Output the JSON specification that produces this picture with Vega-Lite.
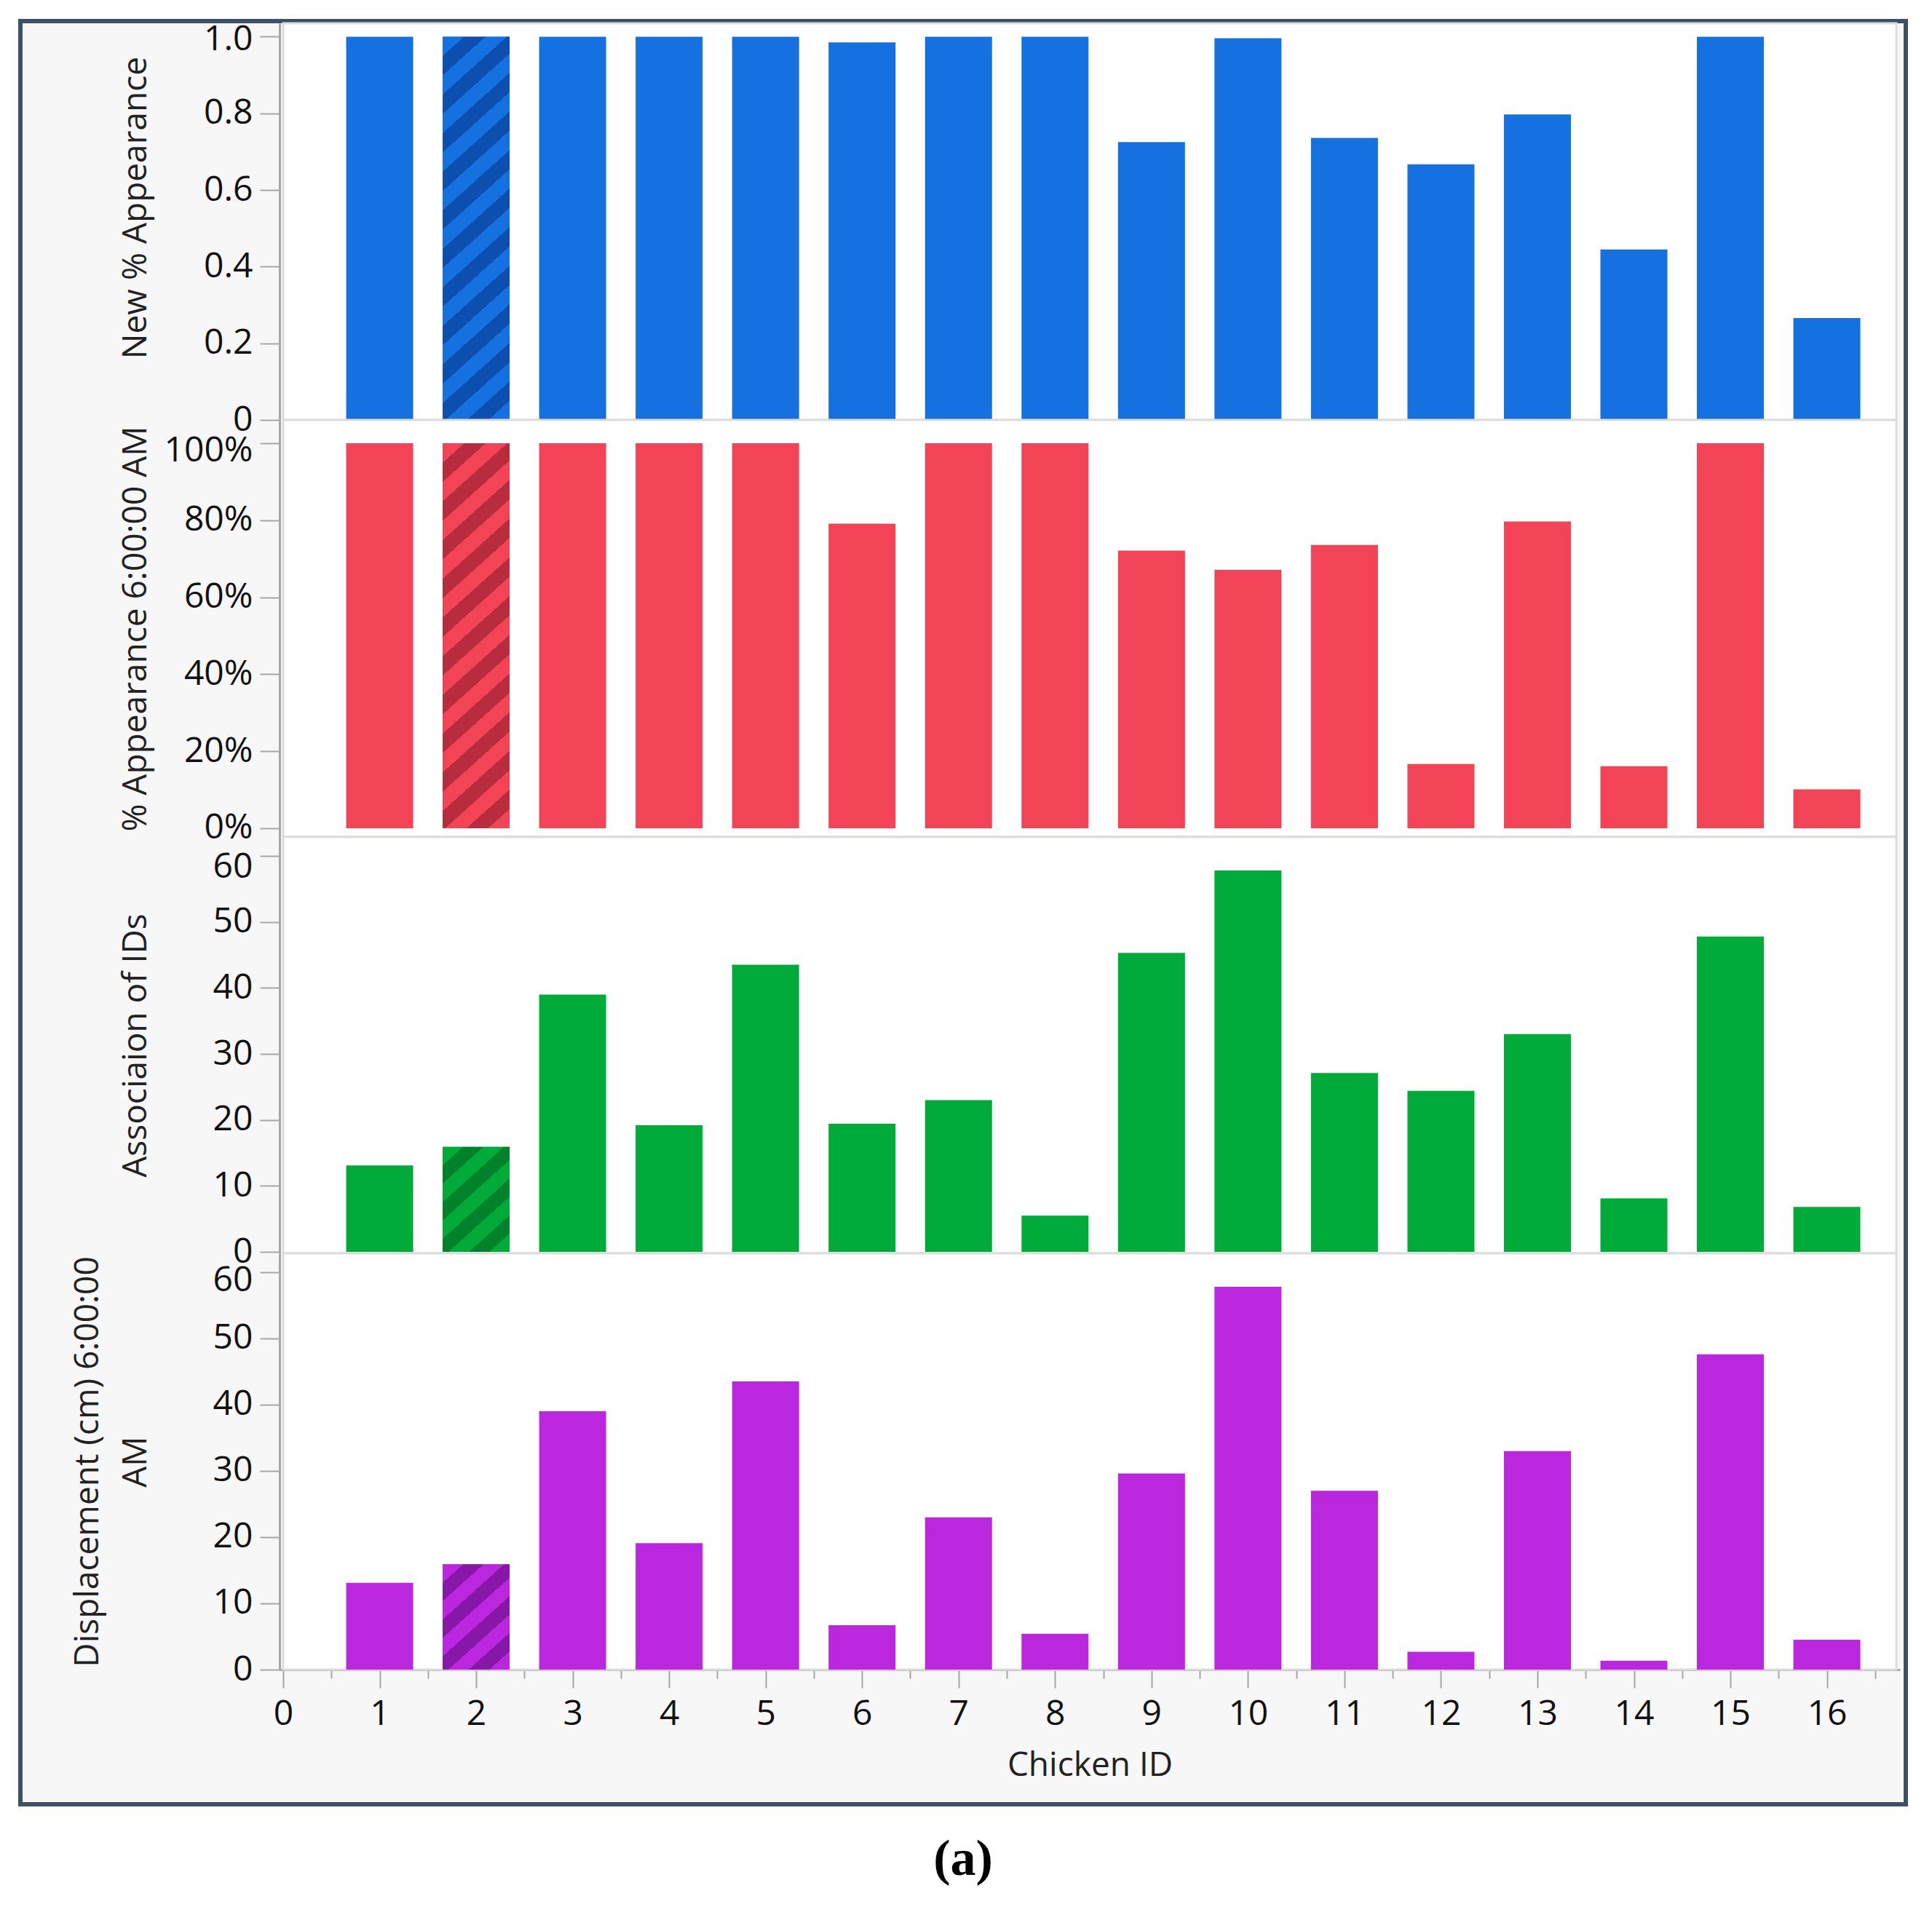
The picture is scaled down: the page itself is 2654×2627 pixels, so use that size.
{
  "$schema": "https://vega.github.io/schema/vega-lite/v6.json",
  "width": 2590,
  "height": 2450,
  "autosize": {"type": "none"},
  "padding": {"left": 28, "top": 29, "right": 36, "bottom": 148},
  "background": "white",
  "title": {"text": "(a)", "orient": "bottom", "anchor": "middle", "font": "Liberation Serif", "fontSize": 70, "fontWeight": "bold", "color": "#000000", "offset": 42},
  "data": {
    "values": [
      {"id": 1, "new_app": 1.0, "app6": 1.0, "assoc": 13.1, "disp": 13.1},
      {"id": 2, "new_app": 1.0, "app6": 1.0, "assoc": 15.9, "disp": 15.9},
      {"id": 3, "new_app": 1.0, "app6": 1.0, "assoc": 39.0, "disp": 39.0},
      {"id": 4, "new_app": 1.0, "app6": 1.0, "assoc": 19.2, "disp": 19.1},
      {"id": 5, "new_app": 1.0, "app6": 1.0, "assoc": 43.5, "disp": 43.5},
      {"id": 6, "new_app": 0.985, "app6": 0.791, "assoc": 19.4, "disp": 6.7},
      {"id": 7, "new_app": 1.0, "app6": 1.0, "assoc": 23.0, "disp": 23.0},
      {"id": 8, "new_app": 1.0, "app6": 1.0, "assoc": 5.5, "disp": 5.4},
      {"id": 9, "new_app": 0.725, "app6": 0.721, "assoc": 45.3, "disp": 29.6},
      {"id": 10, "new_app": 0.996, "app6": 0.671, "assoc": 57.8, "disp": 57.8},
      {"id": 11, "new_app": 0.736, "app6": 0.736, "assoc": 27.1, "disp": 27.0},
      {"id": 12, "new_app": 0.667, "app6": 0.167, "assoc": 24.4, "disp": 2.7},
      {"id": 13, "new_app": 0.797, "app6": 0.797, "assoc": 33.0, "disp": 33.0},
      {"id": 14, "new_app": 0.445, "app6": 0.161, "assoc": 8.1, "disp": 1.35},
      {"id": 15, "new_app": 1.0, "app6": 1.0, "assoc": 47.8, "disp": 47.6},
      {"id": 16, "new_app": 0.266, "app6": 0.101, "assoc": 6.8, "disp": 4.5}
    ]
  },
  "layer": [
    {
      "layer": [
        {
          "data": {"values": [{}]},
          "mark": {"type": "rect", "fill": "white", "stroke": "#dcdcdc", "strokeWidth": 3},
          "encoding": {
            "x": {"datum": 0, "type": "quantitative", "title": "Chicken ID", "scale": {"domain": [0, 16.72], "range": [356, 2582], "nice": false, "zero": false}},
            "x2": {"datum": 16.72},
            "y": {"datum": 0, "type": "quantitative", "title": "New % Appearance", "scale": {"domain": [0, 1.035], "range": [548, 3], "nice": false, "zero": false}},
            "y2": {"datum": 1.035}
          }
        },
        {
          "mark": {"type": "bar", "orient": "vertical", "size": 92, "fill": "#1570e0"},
          "encoding": {
            "x": {
              "field": "id", "type": "quantitative", "title": "Chicken ID",
              "scale": {"domain": [0, 16.72], "range": [356, 2582], "nice": false, "zero": false},
              "axis": {
                "orient": "bottom", "offset": -185,
                "values": [0, 0.5, 1, 1.5, 2, 2.5, 3, 3.5, 4, 4.5, 5, 5.5, 6, 6.5, 7, 7.5, 8, 8.5, 9, 9.5, 10, 10.5, 11, 11.5, 12, 12.5, 13, 13.5, 14, 14.5, 15, 15.5, 16, 16.5],
                "labelExpr": "datum.value % 1 == 0 ? format(datum.value, 'd') : ''",
                "tickSize": {"condition": {"test": "datum.value % 1 == 0", "value": 25}, "value": 12},
                "labelFlush": false, "labelOverlap": false, "labelPadding": 12, "titlePadding": 24
              }
            },
            "y": {
              "field": "new_app", "type": "quantitative", "title": "New % Appearance",
              "scale": {"domain": [0, 1.035], "range": [548, 3], "nice": false, "zero": false},
              "axis": {
                "orient": "left", "offset": -356,
                "values": [0, 0.2, 0.4, 0.6, 0.8, 1],
                "labelExpr": "datum.value == 0 ? '0' : format(datum.value, '.1f')",
                "labelOffset": {"condition": {"test": "datum.value == 1", "value": 4}, "value": 0},
                "minExtent": 160, "maxExtent": 160, "titlePadding": 14, "titleY": 256
              }
            }
          }
        },
        {
          "transform": [{"filter": "datum.id == 2"}],
          "mark": {
            "type": "bar", "orient": "vertical", "size": 92,
            "fill": {
              "gradient": "linear", "x1": 0, "y1": 0, "x2": 0.1778, "y2": 1.1294,
              "stops": [
                {"offset": 0, "color": "#1570e0"}, {"offset": 0.0435, "color": "#1570e0"},
                {"offset": 0.0435, "color": "#0c4fae"}, {"offset": 0.087, "color": "#0c4fae"},
                {"offset": 0.087, "color": "#1570e0"}, {"offset": 0.1304, "color": "#1570e0"},
                {"offset": 0.1304, "color": "#0c4fae"}, {"offset": 0.1739, "color": "#0c4fae"},
                {"offset": 0.1739, "color": "#1570e0"}, {"offset": 0.2174, "color": "#1570e0"},
                {"offset": 0.2174, "color": "#0c4fae"}, {"offset": 0.2609, "color": "#0c4fae"},
                {"offset": 0.2609, "color": "#1570e0"}, {"offset": 0.3043, "color": "#1570e0"},
                {"offset": 0.3043, "color": "#0c4fae"}, {"offset": 0.3478, "color": "#0c4fae"},
                {"offset": 0.3478, "color": "#1570e0"}, {"offset": 0.3913, "color": "#1570e0"},
                {"offset": 0.3913, "color": "#0c4fae"}, {"offset": 0.4348, "color": "#0c4fae"},
                {"offset": 0.4348, "color": "#1570e0"}, {"offset": 0.4783, "color": "#1570e0"},
                {"offset": 0.4783, "color": "#0c4fae"}, {"offset": 0.5217, "color": "#0c4fae"},
                {"offset": 0.5217, "color": "#1570e0"}, {"offset": 0.5652, "color": "#1570e0"},
                {"offset": 0.5652, "color": "#0c4fae"}, {"offset": 0.6087, "color": "#0c4fae"},
                {"offset": 0.6087, "color": "#1570e0"}, {"offset": 0.6522, "color": "#1570e0"},
                {"offset": 0.6522, "color": "#0c4fae"}, {"offset": 0.6957, "color": "#0c4fae"},
                {"offset": 0.6957, "color": "#1570e0"}, {"offset": 0.7391, "color": "#1570e0"},
                {"offset": 0.7391, "color": "#0c4fae"}, {"offset": 0.7826, "color": "#0c4fae"},
                {"offset": 0.7826, "color": "#1570e0"}, {"offset": 0.8261, "color": "#1570e0"},
                {"offset": 0.8261, "color": "#0c4fae"}, {"offset": 0.8696, "color": "#0c4fae"},
                {"offset": 0.8696, "color": "#1570e0"}, {"offset": 0.913, "color": "#1570e0"},
                {"offset": 0.913, "color": "#0c4fae"}, {"offset": 0.9565, "color": "#0c4fae"},
                {"offset": 0.9565, "color": "#1570e0"}, {"offset": 1, "color": "#1570e0"}
              ]
            }
          },
          "encoding": {
            "x": {"field": "id", "type": "quantitative", "title": "Chicken ID", "scale": {"domain": [0, 16.72], "range": [356, 2582], "nice": false, "zero": false}},
            "y": {"field": "new_app", "type": "quantitative", "title": "New % Appearance", "scale": {"domain": [0, 1.035], "range": [548, 3], "nice": false, "zero": false}}
          }
        }
      ]
    },
    {
      "layer": [
        {
          "data": {"values": [{}]},
          "mark": {"type": "rect", "fill": "white", "stroke": "#dcdcdc", "strokeWidth": 3},
          "encoding": {
            "x": {"datum": 0, "type": "quantitative", "title": "Chicken ID", "scale": {"domain": [0, 16.72], "range": [356, 2582], "nice": false, "zero": false}},
            "x2": {"datum": 16.72},
            "y": {"datum": -0.0227, "type": "quantitative", "title": "% Appearance 6:00:00 AM", "scale": {"domain": [-0.0227, 1.0605], "range": [1121, 548], "nice": false, "zero": false}},
            "y2": {"datum": 1.0605}
          }
        },
        {
          "mark": {"type": "bar", "orient": "vertical", "size": 92, "fill": "#f24456"},
          "encoding": {
            "x": {"field": "id", "type": "quantitative", "title": "Chicken ID", "scale": {"domain": [0, 16.72], "range": [356, 2582], "nice": false, "zero": false}},
            "y": {
              "field": "app6", "type": "quantitative", "title": "% Appearance 6:00:00 AM",
              "scale": {"domain": [-0.0227, 1.0605], "range": [1121, 548], "nice": false, "zero": false},
              "axis": {
                "orient": "left", "offset": -356,
                "values": [0, 0.2, 0.4, 0.6, 0.8, 1], "format": ".0%",
                "labelOffset": {"condition": {"test": "datum.value == 1", "value": 10}, "value": 0},
                "minExtent": 160, "maxExtent": 160, "titlePadding": 14
              }
            }
          }
        },
        {
          "transform": [{"filter": "datum.id == 2"}],
          "mark": {
            "type": "bar", "orient": "vertical", "size": 92,
            "fill": {
              "gradient": "linear", "x1": 0, "y1": 0, "x2": 0.1767, "y2": 1.1289,
              "stops": [
                {"offset": 0, "color": "#f24456"}, {"offset": 0.0435, "color": "#f24456"},
                {"offset": 0.0435, "color": "#b82d3d"}, {"offset": 0.087, "color": "#b82d3d"},
                {"offset": 0.087, "color": "#f24456"}, {"offset": 0.1304, "color": "#f24456"},
                {"offset": 0.1304, "color": "#b82d3d"}, {"offset": 0.1739, "color": "#b82d3d"},
                {"offset": 0.1739, "color": "#f24456"}, {"offset": 0.2174, "color": "#f24456"},
                {"offset": 0.2174, "color": "#b82d3d"}, {"offset": 0.2609, "color": "#b82d3d"},
                {"offset": 0.2609, "color": "#f24456"}, {"offset": 0.3043, "color": "#f24456"},
                {"offset": 0.3043, "color": "#b82d3d"}, {"offset": 0.3478, "color": "#b82d3d"},
                {"offset": 0.3478, "color": "#f24456"}, {"offset": 0.3913, "color": "#f24456"},
                {"offset": 0.3913, "color": "#b82d3d"}, {"offset": 0.4348, "color": "#b82d3d"},
                {"offset": 0.4348, "color": "#f24456"}, {"offset": 0.4783, "color": "#f24456"},
                {"offset": 0.4783, "color": "#b82d3d"}, {"offset": 0.5217, "color": "#b82d3d"},
                {"offset": 0.5217, "color": "#f24456"}, {"offset": 0.5652, "color": "#f24456"},
                {"offset": 0.5652, "color": "#b82d3d"}, {"offset": 0.6087, "color": "#b82d3d"},
                {"offset": 0.6087, "color": "#f24456"}, {"offset": 0.6522, "color": "#f24456"},
                {"offset": 0.6522, "color": "#b82d3d"}, {"offset": 0.6957, "color": "#b82d3d"},
                {"offset": 0.6957, "color": "#f24456"}, {"offset": 0.7391, "color": "#f24456"},
                {"offset": 0.7391, "color": "#b82d3d"}, {"offset": 0.7826, "color": "#b82d3d"},
                {"offset": 0.7826, "color": "#f24456"}, {"offset": 0.8261, "color": "#f24456"},
                {"offset": 0.8261, "color": "#b82d3d"}, {"offset": 0.8696, "color": "#b82d3d"},
                {"offset": 0.8696, "color": "#f24456"}, {"offset": 0.913, "color": "#f24456"},
                {"offset": 0.913, "color": "#b82d3d"}, {"offset": 0.9565, "color": "#b82d3d"},
                {"offset": 0.9565, "color": "#f24456"}, {"offset": 1, "color": "#f24456"}
              ]
            }
          },
          "encoding": {
            "x": {"field": "id", "type": "quantitative", "title": "Chicken ID", "scale": {"domain": [0, 16.72], "range": [356, 2582], "nice": false, "zero": false}},
            "y": {"field": "app6", "type": "quantitative", "title": "% Appearance 6:00:00 AM", "scale": {"domain": [-0.0227, 1.0605], "range": [1121, 548], "nice": false, "zero": false}}
          }
        }
      ]
    },
    {
      "layer": [
        {
          "data": {"values": [{}]},
          "mark": {"type": "rect", "fill": "white", "stroke": "#dcdcdc", "strokeWidth": 3},
          "encoding": {
            "x": {"datum": 0, "type": "quantitative", "title": "Chicken ID", "scale": {"domain": [0, 16.72], "range": [356, 2582], "nice": false, "zero": false}},
            "x2": {"datum": 16.72},
            "y": {"datum": -0.22, "type": "quantitative", "title": "Associaion of IDs", "scale": {"domain": [-0.22, 62.87], "range": [1693, 1121], "nice": false, "zero": false}},
            "y2": {"datum": 62.87}
          }
        },
        {
          "mark": {"type": "bar", "orient": "vertical", "size": 92, "fill": "#00ab39"},
          "encoding": {
            "x": {"field": "id", "type": "quantitative", "title": "Chicken ID", "scale": {"domain": [0, 16.72], "range": [356, 2582], "nice": false, "zero": false}},
            "y": {
              "field": "assoc", "type": "quantitative", "title": "Associaion of IDs",
              "scale": {"domain": [-0.22, 62.87], "range": [1693, 1121], "nice": false, "zero": false},
              "axis": {
                "orient": "left", "offset": -356,
                "values": [0, 10, 20, 30, 40, 50, 60], "format": "d",
                "labelOffset": {"condition": {"test": "datum.value == 60", "value": 15}, "value": 0},
                "minExtent": 160, "maxExtent": 160, "titlePadding": 14
              }
            }
          }
        },
        {
          "transform": [{"filter": "datum.id == 2"}],
          "mark": {
            "type": "bar", "orient": "vertical", "size": 92,
            "fill": {
              "gradient": "linear", "x1": 0, "y1": 0, "x2": 0.6806, "y2": 1.1837,
              "stops": [
                {"offset": 0, "color": "#00ab39"}, {"offset": 0.1111, "color": "#00ab39"},
                {"offset": 0.1111, "color": "#00822b"}, {"offset": 0.2222, "color": "#00822b"},
                {"offset": 0.2222, "color": "#00ab39"}, {"offset": 0.3333, "color": "#00ab39"},
                {"offset": 0.3333, "color": "#00822b"}, {"offset": 0.4444, "color": "#00822b"},
                {"offset": 0.4444, "color": "#00ab39"}, {"offset": 0.5556, "color": "#00ab39"},
                {"offset": 0.5556, "color": "#00822b"}, {"offset": 0.6667, "color": "#00822b"},
                {"offset": 0.6667, "color": "#00ab39"}, {"offset": 0.7778, "color": "#00ab39"},
                {"offset": 0.7778, "color": "#00822b"}, {"offset": 0.8889, "color": "#00822b"},
                {"offset": 0.8889, "color": "#00ab39"}, {"offset": 1, "color": "#00ab39"}
              ]
            }
          },
          "encoding": {
            "x": {"field": "id", "type": "quantitative", "title": "Chicken ID", "scale": {"domain": [0, 16.72], "range": [356, 2582], "nice": false, "zero": false}},
            "y": {"field": "assoc", "type": "quantitative", "title": "Associaion of IDs", "scale": {"domain": [-0.22, 62.87], "range": [1693, 1121], "nice": false, "zero": false}}
          }
        }
      ]
    },
    {
      "layer": [
        {
          "data": {"values": [{}]},
          "mark": {"type": "rect", "fill": "white", "stroke": "#dcdcdc", "strokeWidth": 3},
          "encoding": {
            "x": {"datum": 0, "type": "quantitative", "title": "Chicken ID", "scale": {"domain": [0, 16.72], "range": [356, 2582], "nice": false, "zero": false}},
            "x2": {"datum": 16.72},
            "y": {"datum": 0, "type": "quantitative", "title": ["Displacement (cm) 6:00:00", "AM"], "scale": {"domain": [0, 62.85], "range": [2265, 1693], "nice": false, "zero": false}},
            "y2": {"datum": 62.85}
          }
        },
        {
          "mark": {"type": "bar", "orient": "vertical", "size": 92, "fill": "#bb27df"},
          "encoding": {
            "x": {"field": "id", "type": "quantitative", "title": "Chicken ID", "scale": {"domain": [0, 16.72], "range": [356, 2582], "nice": false, "zero": false}},
            "y": {
              "field": "disp", "type": "quantitative", "title": ["Displacement (cm) 6:00:00", "AM"],
              "scale": {"domain": [0, 62.85], "range": [2265, 1693], "nice": false, "zero": false},
              "axis": {
                "orient": "left", "offset": -356,
                "values": [0, 10, 20, 30, 40, 50, 60], "format": "d",
                "labelOffset": {"condition": {"test": "datum.value == 60", "value": 12}, "value": 0},
                "minExtent": 160, "maxExtent": 160, "titlePadding": 14, "titleLineHeight": 66
              }
            }
          }
        },
        {
          "transform": [{"filter": "datum.id == 2"}],
          "mark": {
            "type": "bar", "orient": "vertical", "size": 92,
            "fill": {
              "gradient": "linear", "x1": 0, "y1": 0, "x2": 0.6765, "y2": 1.1847,
              "stops": [
                {"offset": 0, "color": "#bb27df"}, {"offset": 0.1111, "color": "#bb27df"},
                {"offset": 0.1111, "color": "#8717a6"}, {"offset": 0.2222, "color": "#8717a6"},
                {"offset": 0.2222, "color": "#bb27df"}, {"offset": 0.3333, "color": "#bb27df"},
                {"offset": 0.3333, "color": "#8717a6"}, {"offset": 0.4444, "color": "#8717a6"},
                {"offset": 0.4444, "color": "#bb27df"}, {"offset": 0.5556, "color": "#bb27df"},
                {"offset": 0.5556, "color": "#8717a6"}, {"offset": 0.6667, "color": "#8717a6"},
                {"offset": 0.6667, "color": "#bb27df"}, {"offset": 0.7778, "color": "#bb27df"},
                {"offset": 0.7778, "color": "#8717a6"}, {"offset": 0.8889, "color": "#8717a6"},
                {"offset": 0.8889, "color": "#bb27df"}, {"offset": 1, "color": "#bb27df"}
              ]
            }
          },
          "encoding": {
            "x": {"field": "id", "type": "quantitative", "title": "Chicken ID", "scale": {"domain": [0, 16.72], "range": [356, 2582], "nice": false, "zero": false}},
            "y": {"field": "disp", "type": "quantitative", "title": ["Displacement (cm) 6:00:00", "AM"], "scale": {"domain": [0, 62.85], "range": [2265, 1693], "nice": false, "zero": false}}
          }
        }
      ]
    }
  ],
  "resolve": {"scale": {"y": "independent"}, "axis": {"y": "independent"}},
  "config": {
    "view": {"fill": "#f7f7f7", "stroke": "#3d5068", "strokeWidth": 6},
    "axis": {
      "grid": false,
      "domainColor": "#a6a6a6", "domainWidth": 3,
      "tickColor": "#a6a6a6", "tickWidth": 2, "tickSize": 27,
      "labelFont": "Open Sans", "labelFontSize": 48, "labelColor": "#111111", "labelPadding": 10,
      "titleFont": "Open Sans", "titleFontSize": 46, "titleFontWeight": "normal", "titleColor": "#222222"
    }
  }
}
